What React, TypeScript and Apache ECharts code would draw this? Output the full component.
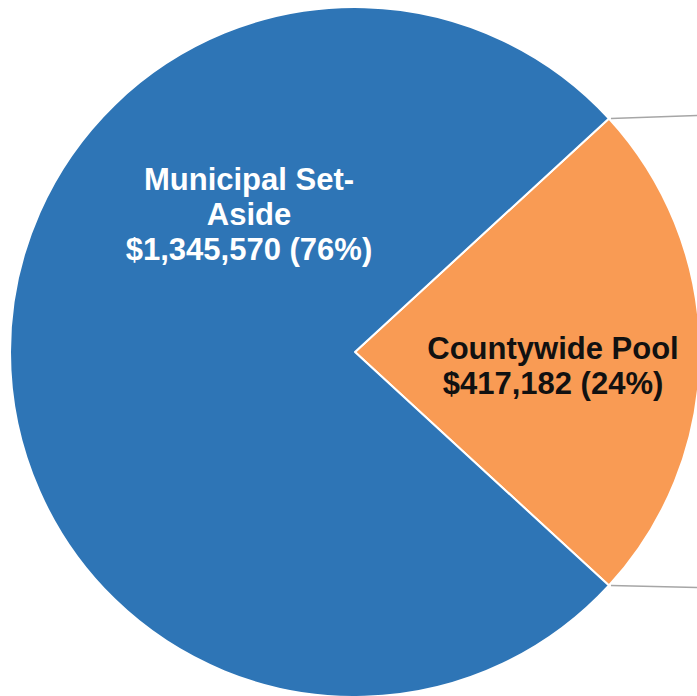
import React, { useEffect, useRef } from "react";
import * as echarts from "echarts";

const categories = ["Countywide Pool", "Municipal Set-\nAside"];
const values = [417182, 1345570];
const colors = ["#F99B54", "#2E75B6"];
const textColors = ["#111111", "#FFFFFF"];

const W = 697;
const H = 696;
const CX = 355;
const CY = 352;
const R = 345;

export default function App() {
  const ref = useRef<HTMLDivElement>(null);
  useEffect(() => {
    if (!ref.current) return;
    const chart = echarts.init(ref.current, null, { renderer: "svg", width: W, height: H });
    const total = values.reduce((a, b) => a + b, 0);
    const orangeDeg = (values[0] / total) * 360;
    const startAngle = orangeDeg / 2;
    const a1 = (startAngle * Math.PI) / 180;
    const a2 = (-startAngle * Math.PI) / 180;
    const p1 = [CX + R * Math.cos(a1), CY - R * Math.sin(a1)];
    const p2 = [CX + R * Math.cos(a2), CY - R * Math.sin(a2)];
    const labelPos = [
      [553, 366],
      [249, 214],
    ];
    chart.setOption({
      animation: false,
      backgroundColor: "#FFFFFF",
      graphic: [
        {
          type: "line",
          shape: { x1: p1[0] + 2, y1: p1[1], x2: W, y2: p1[1] - 3 },
          style: { stroke: "#A6A6A6", lineWidth: 1.5 },
          z: 10,
        },
        {
          type: "line",
          shape: { x1: p2[0] + 2, y1: p2[1], x2: W, y2: p2[1] + 2 },
          style: { stroke: "#A6A6A6", lineWidth: 1.5 },
          z: 10,
        },
      ],
      series: [
        {
          type: "pie",
          center: [CX, CY],
          radius: [0, R],
          startAngle,
          clockwise: true,
          avoidLabelOverlap: false,
          itemStyle: { borderColor: "#FFFFFF", borderWidth: 2 },
          label: {
            show: true,
            position: "inside",
            fontFamily: "Liberation Sans, Arial, sans-serif",
            fontWeight: "bold",
            fontSize: 31,
            lineHeight: 35,
            align: "center",
            formatter: (p: any) =>
              `${p.name}\n$${(p.value as number).toLocaleString("en-US")} (${Math.round(
                ((p.value as number) / total) * 100
              )}%)`,
          },
          labelLine: { show: false },
          labelLayout: (p: any) => ({
            x: labelPos[p.dataIndex][0],
            y: labelPos[p.dataIndex][1],
            align: "center",
            verticalAlign: "middle",
          }),
          data: categories.map((c, i) => ({
            name: c,
            value: values[i],
            itemStyle: { color: colors[i] },
            label: { color: textColors[i] },
          })),
        },
      ],
    });
    return () => chart.dispose();
  }, []);
  return (
    <div
      ref={ref}
      style={{ position: "fixed", left: 0, top: 0, width: W, height: H }}
    />
  );
}
